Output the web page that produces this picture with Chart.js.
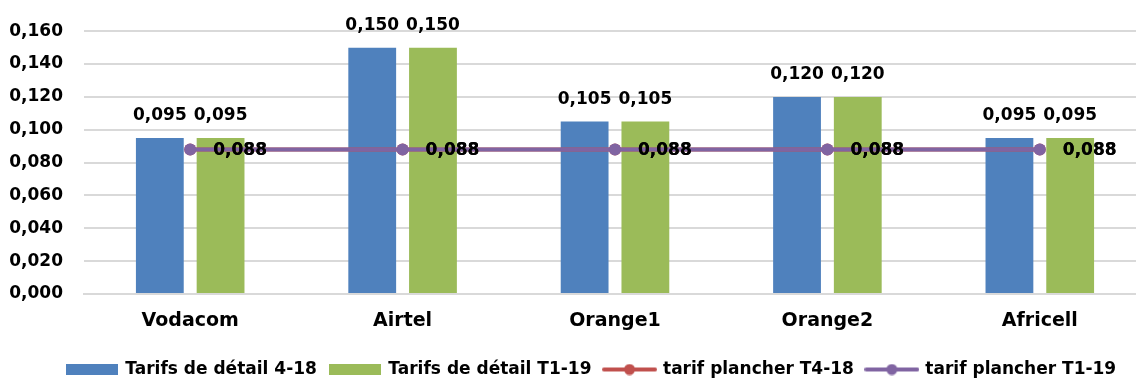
<!DOCTYPE html>
<html>
<head>
<meta charset="utf-8">
<script src="https://cdn.jsdelivr.net/npm/chart.js@4.4.0/dist/chart.umd.min.js"></script>
<style>
  html, body { margin: 0; padding: 0; background: #fff; overflow: hidden; }
  #wrap { width: 1152px; height: 380px; position: relative; }
</style>
</head>
<body>
<div id="wrap"><canvas id="tarifsChart"></canvas></div>
<script>
// Chart data
const operators = ['Vodacom', 'Airtel', 'Orange1', 'Orange2', 'Africell'];
const detail418 = [0.095, 0.150, 0.105, 0.120, 0.095];
const detailT119 = [0.095, 0.150, 0.105, 0.120, 0.095];
const plancherT418 = [0.088, 0.088, 0.088, 0.088, 0.088];
const plancherT119 = [0.088, 0.088, 0.088, 0.088, 0.088];
const seriesNames = ['Tarifs de détail 4-18', 'Tarifs de détail T1-19', 'tarif plancher T4-18', 'tarif plancher T1-19'];
const yTicks = [0, 0.02, 0.04, 0.06, 0.08, 0.10, 0.12, 0.14, 0.16];

const BLUE = '#4F81BD';
const GREEN = '#9BBB59';
const RED = '#C0504D';
const PURPLE = '#8064A2';
const FONT = "'DejaVu Sans', sans-serif";

(function() {
    'use strict';

    function fmt(v) {
        return v.toFixed(3).replace('.', ',');
    }

    // small canvases used as legend markers
    function boxMarker(color) {
        const c = document.createElement('canvas');
        c.width = 52; c.height = 11;
        const g = c.getContext('2d');
        g.fillStyle = color;
        g.fillRect(0, 0, 52, 11);
        return c;
    }

    function lineMarker(color) {
        const c = document.createElement('canvas');
        c.width = 55; c.height = 12;
        const g = c.getContext('2d');
        g.strokeStyle = color;
        g.lineWidth = 4;
        g.lineCap = 'round';
        g.beginPath();
        g.moveTo(2, 6);
        g.lineTo(53, 6);
        g.stroke();
        g.fillStyle = color;
        g.beginPath();
        g.arc(27.5, 6, 5.5, 0, Math.PI * 2);
        g.fill();
        return c;
    }

    const markers = [boxMarker(BLUE), boxMarker(GREEN), lineMarker(RED), lineMarker(PURPLE)];

    // draws value labels like the excel data labels
    const valueLabels = {
        id: 'valueLabels',
        afterDatasetsDraw(chart) {
            const ctx = chart.ctx;
            ctx.save();
            ctx.fillStyle = '#000';
            ctx.font = 'bold 17px ' + FONT;
            chart.data.datasets.forEach((ds, i) => {
                const meta = chart.getDatasetMeta(i);
                meta.data.forEach((el, j) => {
                    const txt = fmt(ds.data[j]);
                    if (ds.type === 'line') {
                        ctx.textAlign = 'left';
                        ctx.textBaseline = 'middle';
                        ctx.fillText(txt, el.x + 23, el.y + 1);
                    } else {
                        ctx.textAlign = 'center';
                        ctx.textBaseline = 'alphabetic';
                        ctx.fillText(txt, el.x, el.y - 18);
                    }
                });
            });
            ctx.restore();
        }
    };

    // legend sits a bit right of the canvas centre in the original
    const legendShift = {
        id: 'legendShift',
        afterLayout(chart) {
            if (chart.legend) {
                chart.legend.left += 16;
                chart.legend.right += 16;
            }
        }
    };

    const ctx = document.getElementById('tarifsChart').getContext('2d');

    new Chart(ctx, {
        data: {
            labels: operators,
            datasets: [
                {
                    type: 'bar',
                    label: seriesNames[0],
                    data: detail418,
                    backgroundColor: BLUE,
                    order: 2,
                    categoryPercentage: 0.572,
                    barPercentage: 0.787
                },
                {
                    type: 'bar',
                    label: seriesNames[1],
                    data: detailT119,
                    backgroundColor: GREEN,
                    order: 2,
                    categoryPercentage: 0.572,
                    barPercentage: 0.787
                },
                {
                    type: 'line',
                    label: seriesNames[2],
                    data: plancherT418,
                    borderColor: RED,
                    backgroundColor: RED,
                    borderWidth: 4,
                    pointRadius: 6,
                    pointBorderWidth: 0,
                    pointBackgroundColor: RED,
                    order: 1
                },
                {
                    type: 'line',
                    label: seriesNames[3],
                    data: plancherT119,
                    borderColor: PURPLE,
                    backgroundColor: PURPLE,
                    borderWidth: 4,
                    pointRadius: 6,
                    pointBorderWidth: 0,
                    pointBackgroundColor: PURPLE,
                    order: 0
                }
            ]
        },
        options: {
            responsive: true,
            maintainAspectRatio: false,
            animation: false,
            layout: {
                padding: { top: 31, right: 1, left: 0, bottom: -8 }
            },
            plugins: {
                tooltip: { enabled: false },
                legend: {
                    position: 'bottom',
                    labels: {
                        usePointStyle: true,
                        pointStyleWidth: 50,
                        padding: 13,
                        color: '#000',
                        font: { family: FONT, size: 17, weight: 'bold' },
                        generateLabels: function(chart) {
                            return chart.data.datasets.map((ds, i) => ({
                                text: ds.label,
                                pointStyle: markers[i],
                                fillStyle: ds.backgroundColor,
                                strokeStyle: ds.backgroundColor,
                                lineWidth: 0,
                                hidden: false,
                                fontColor: '#000',
                                datasetIndex: i
                            }));
                        }
                    }
                }
            },
            scales: {
                x: {
                    grid: { display: false, drawTicks: false },
                    border: { display: true, color: '#d9d9d9', width: 2 },
                    ticks: {
                        padding: 16,
                        color: '#000',
                        font: { family: FONT, size: 19, weight: 'bold' }
                    },
                    afterFit: function(scale) { scale.height = 54; }
                },
                y: {
                    min: 0,
                    max: 0.16,
                    afterBuildTicks: function(scale) {
                        scale.ticks = yTicks.map(v => ({ value: v }));
                    },
                    grid: { color: '#d9d9d9', lineWidth: 2, drawTicks: false },
                    border: { display: false },
                    ticks: {
                        padding: 21,
                        color: '#000',
                        font: { family: FONT, size: 17, weight: 'bold' },
                        callback: function(value) { return fmt(value); }
                    },
                    afterFit: function(scale) { scale.width = 84; }
                }
            }
        },
        plugins: [valueLabels, legendShift]
    });
})();
</script>
</body>
</html>
